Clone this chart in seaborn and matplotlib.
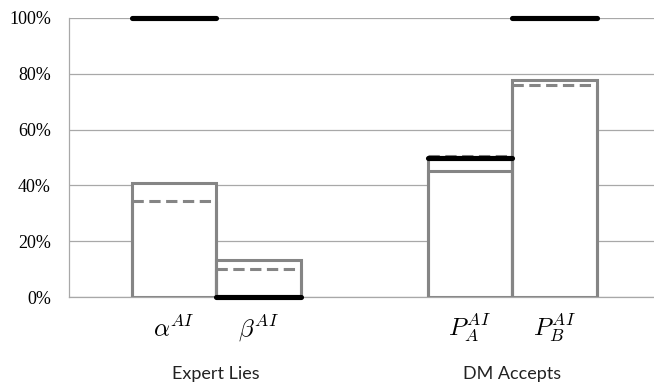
import matplotlib
matplotlib.use("Agg")
import matplotlib.pyplot as plt
import seaborn as sns
from matplotlib.ticker import FuncFormatter

# Measures shown under each bar, and the two groups they belong to
measures = [r"$\alpha^{AI}$", r"$\beta^{AI}$", r"$P_A^{AI}$", r"$P_B^{AI}$"]
groups = ["Expert Lies", "DM Accepts"]
group_members = [[0, 1], [2, 3]]

# Percentages per measure
observed = [40.7, 13.2, 45.0, 77.8]      # solid grey bars
benchmark = [34.5, 10.0, 50.5, 76.0]     # dashed grey marks
prediction = [100.0, 0.0, 50.0, 100.0]   # thick black marks

y_ticks = [0, 20, 40, 60, 80, 100]

# Layout: bar centres along x (gap between the two groups)
bar_x = [0.0, 1.0, 3.5, 4.5]

sns.set_style("white")
plt.rcParams["mathtext.fontset"] = "cm"

GREY = "#858585"
GRID = "#a8a8a8"

fig = plt.figure(figsize=(6.54, 3.82), dpi=100)
ax = fig.add_axes([69 / 654, 85 / 382, 585 / 654, 279 / 382])

sns.barplot(x=bar_x, y=observed, native_scale=True, width=1.0,
            color="white", edgecolor=GREY, linewidth=2.2,
            errorbar=None, ax=ax, zorder=2)

patches = list(ax.patches)
for p, b, pr in zip(patches, benchmark, prediction):
    x0 = p.get_x()
    x1 = x0 + p.get_width()
    # side walls up to the benchmark level, dashed top
    ax.vlines([x0, x1], 0, b, color=GREY, lw=2.2, zorder=3)
    ax.plot([x0, x1], [b, b], color=GREY, lw=2.2,
            linestyle=(0, (3.7, 1.8)), zorder=3, clip_on=False)
    ax.plot([x0, x1], [pr, pr], color="black", lw=3.7,
            solid_capstyle="round", zorder=4, clip_on=False)

ax.set_xlim(-1.243, 5.68)
ax.set_ylim(0, 100)
ax.set_yticks(y_ticks)
ax.yaxis.set_major_formatter(FuncFormatter(lambda v, _: f"{v:.0f}%"))
ax.set_xticks([])
ax.set_xlabel("")
ax.set_ylabel("")
ax.yaxis.grid(True, color=GRID, lw=0.9)
ax.set_axisbelow(True)
ax.tick_params(axis="y", length=0, pad=13)
for lbl in ax.get_yticklabels():
    lbl.set_fontfamily("Liberation Serif")
    lbl.set_fontsize(13)
    lbl.set_color("black")

for s in ["top", "right"]:
    ax.spines[s].set_visible(False)
ax.spines["left"].set_color(GRID)
ax.spines["left"].set_linewidth(0.9)
ax.spines["bottom"].set_color(GRID)
ax.spines["bottom"].set_linewidth(0.9)

tr = ax.get_xaxis_transform()
for p, m in zip(patches, measures):
    cx = p.get_x() + p.get_width() / 2
    ax.text(cx, -0.140, m, transform=tr, ha="center", va="baseline",
            fontsize=18, color="black")

for g, members in zip(groups, group_members):
    cx = sum(patches[i].get_x() + patches[i].get_width() / 2 for i in members) / len(members)
    ax.text(cx, -0.294, g, transform=tr, ha="center", va="baseline",
            fontsize=13, family="Lato", color="#222222")

fig.savefig("out.png", dpi=100)
